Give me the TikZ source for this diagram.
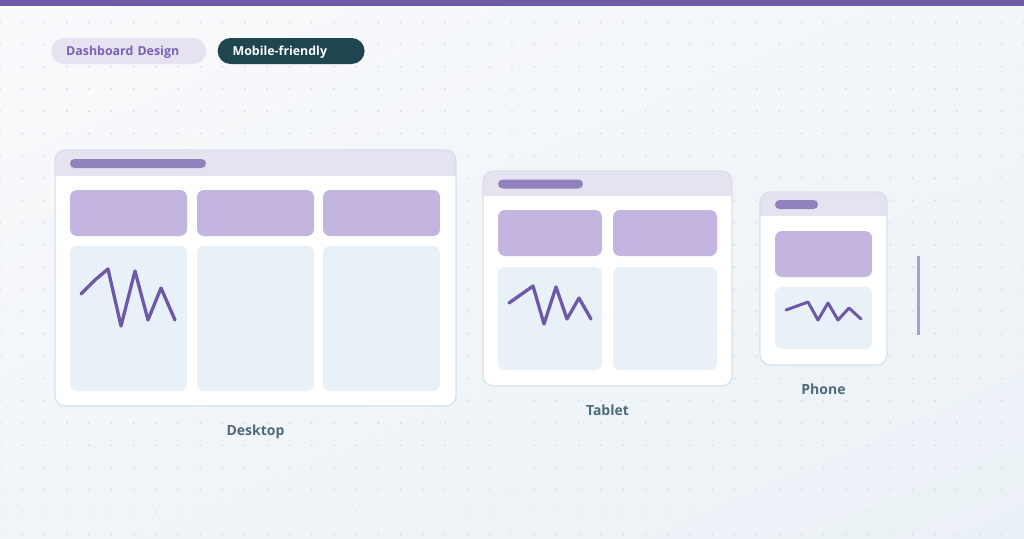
\documentclass[tikz,border=0pt]{standalone}
\usepackage{fontspec}
\setsansfont{Open Sans}
\usetikzlibrary{positioning,shadings}
\definecolor{topbar}{HTML}{6E5AA8}
\definecolor{pilllight}{HTML}{E6E2F1}
\definecolor{pilltext}{HTML}{7B61B5}
\definecolor{pilldark}{HTML}{1F4550}
\definecolor{frameline}{HTML}{D6E1EA}
\definecolor{headfill}{HTML}{E5E3F0}
\definecolor{headbar}{HTML}{9182BE}
\definecolor{cardfill}{HTML}{C3B5DF}
\definecolor{panelfill}{HTML}{E8F1F8}
\definecolor{linepurple}{HTML}{6E58A8}
\definecolor{labelgray}{HTML}{4F6A78}
\definecolor{dotgray}{HTML}{D3DCE4}
\definecolor{sidebar}{HTML}{A99DD1}
\definecolor{bgtopleft}{HTML}{F9FAFC}
\definecolor{bgtopright}{HTML}{F2F6F9}
\definecolor{bgbotleft}{HTML}{F1F5F8}
\definecolor{bgbotright}{HTML}{EAF1F6}
\tikzset{
  pill/.style={rounded corners=13pt, minimum height=26pt, inner xsep=15pt, inner ysep=0pt, text height=9pt, text depth=0pt, align=left, font=\sffamily\bfseries\fontsize{12.4}{14}\selectfont},
  frame/.style={draw=frameline, line width=1.2pt, rounded corners=10pt},
  headband/.style={fill=headfill},
  titlebar/.style={fill=headbar, rounded corners=4.5pt},
  card/.style={fill=cardfill, rounded corners=7pt},
  panel/.style={fill=panelfill, rounded corners=7pt},
  sparkline/.style={draw=linepurple, line width=3.3pt, line cap=round, line join=round},
  devlabel/.style={font=\sffamily\bfseries\fontsize{14}{16}\selectfont, text=labelgray, text height=10pt, text depth=0pt, inner sep=0pt}
}
\begin{document}
\begin{tikzpicture}[x=1pt, y=-1pt]
\useasboundingbox (0,0) rectangle (1024,538);
% background and dot grid
\shade[upper left=bgtopleft, upper right=bgtopright, lower left=bgbotleft, lower right=bgbotright] (0,0) rectangle (1024,538);
\foreach \i in {0,...,46}
  \foreach \j in {1,...,24}
    \fill[dotgray] (\i*22.26,\j*22.26) circle (1pt);
\fill[topbar] (0,0) rectangle (1024,6);

% tags
\node[pill, fill=pilllight, text=pilltext, text width=125pt, anchor=west] (tagdash) at (51,51) {Dashboard Design};
\node[pill, fill=pilldark, text=white, text width=117pt, right=11pt of tagdash] (tagmobile) {Mobile-friendly};

% desktop
\fill[white, rounded corners=10pt] (55,150) rectangle (456,406);
\begin{scope}
  \clip[rounded corners=10pt] (55,150) rectangle (456,406);
  \fill[headband] (55,150) rectangle (456,176);
\end{scope}
\draw[frame] (55,150) rectangle (456,406);
\fill[titlebar] (70,159) rectangle (206,168);
\fill[card] (70,190) rectangle (187,236);
\fill[card] (197,190) rectangle (314,236);
\fill[card] (323,190) rectangle (440,236);
\fill[panel] (70,246) rectangle (187,391);
\fill[panel] (197,246) rectangle (314,391);
\fill[panel] (323,246) rectangle (440,391);
\draw[sparkline] (81,294) -- (95,280) -- (108,269) -- (121,326) -- (135,271) -- (148,320) -- (161,288) -- (175,320);
\node[devlabel] (desktop) at (255.5,430.5) {Desktop};

% tablet
\fill[white, rounded corners=10pt] (483,171) rectangle (732,386);
\begin{scope}
  \clip[rounded corners=10pt] (483,171) rectangle (732,386);
  \fill[headband] (483,171) rectangle (732,196);
\end{scope}
\draw[frame] (483,171) rectangle (732,386);
\fill[titlebar] (498,179.5) rectangle (583,188.5);
\fill[card] (498,210) rectangle (602,256);
\fill[card] (613,210) rectangle (717,256);
\fill[panel] (498,267) rectangle (602,370);
\fill[panel] (613,267) rectangle (717,370);
\draw[sparkline] (509,303) -- (533,286) -- (544,324) -- (556,287) -- (567,319) -- (579,298) -- (591,319);
\node[devlabel] (tablet) at (607.5,410) {Tablet};

% phone
\fill[white, rounded corners=10pt] (760,192) rectangle (887,365);
\begin{scope}
  \clip[rounded corners=10pt] (760,192) rectangle (887,365);
  \fill[headband] (760,192) rectangle (887,216);
\end{scope}
\draw[frame] (760,192) rectangle (887,365);
\fill[titlebar] (775,200) rectangle (818,209);
\fill[card] (775,231) rectangle (872,277);
\fill[panel] (775,287) rectangle (872,349);
\draw[sparkline, line width=3pt] (786,310) -- (808,302) -- (818,320) -- (828,303) -- (838,320) -- (849,308) -- (861,319);
\node[devlabel] (phone) at (823.5,389) {Phone};
\draw[sidebar, line width=3pt] (918,256) -- (918,335);
\end{tikzpicture}
\end{document}
